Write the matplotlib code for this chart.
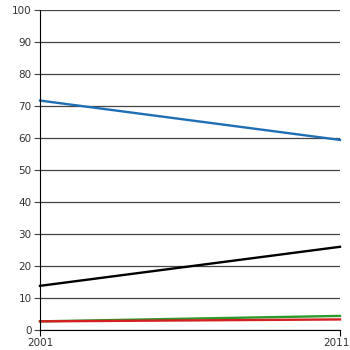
import matplotlib
matplotlib.use("Agg")
import matplotlib.pyplot as plt
import matplotlib.transforms as mtransforms

years = [2001, 2011]
blue = [71.7, 59.4]
black = [13.8, 26.0]
green = [2.7, 4.4]
red = [2.7, 3.3]
yticks = [0, 10, 20, 30, 40, 50, 60, 70, 80, 90, 100]
xticks = [2001, 2011]

fig = plt.figure(figsize=(3.5, 3.5), dpi=100)
ax = fig.add_axes([40/350, 20/350, 300/350, 320/350])
ax.set_xlim(2001, 2011)
ax.set_ylim(0, 100)
ax.set_yticks(yticks)
ax.set_xticks(xticks)
ax.grid(axis='y', color='#444444', linewidth=0.9)
ax.set_axisbelow(True)
for s in ['top', 'right']:
    ax.spines[s].set_visible(False)
ax.spines['left'].set_color('black')
ax.spines['bottom'].set_color('black')
ax.tick_params(axis='y', length=4, color='#444444', labelsize=7.5, labelcolor='#333333', pad=2)
ax.tick_params(axis='x', length=4, color='black', labelsize=7.5, labelcolor='#333333', pad=2)

ax.plot(years, blue, color='#1f6fb5', linewidth=1.7, clip_on=False)
ax.plot(years, black, color='black', linewidth=1.7, clip_on=False)
ax.plot(years, green, color='#2a9a2a', linewidth=1.7, clip_on=False)
ax.plot(years, red, color='#d42020', linewidth=1.7, clip_on=False)

labels = ax.get_xticklabels()
last = labels[-1]
last.set_transform(last.get_transform() + mtransforms.ScaledTranslation(-4/100, 0, fig.dpi_scale_trans))

fig.savefig("out.png", dpi=100, facecolor='white')
